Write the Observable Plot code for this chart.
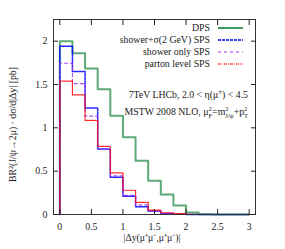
<!DOCTYPE html>
<html><head><meta charset="utf-8">
<script src="https://cdn.jsdelivr.net/npm/d3@7"></script>
<script src="https://cdn.jsdelivr.net/npm/@observablehq/plot@0.6"></script>
<style>body{margin:0;background:#fff}</style>
</head><body><div id="chart"></div>
<script>
const binEdges = [0,0.2,0.4,0.6,0.8,1.0,1.2,1.4,1.6,1.8,2.0,2.2,2.4,2.6,2.8,3.0];
const seriesNames = ["DPS","shower+σ(2 GeV) SPS","shower only SPS","parton level SPS"];
const dps      = [2.00,1.86,1.685,1.446,1.14,0.89,0.62,0.39,0.23,0.105,0.022,0.004,0,0,0];
const showerSig= [1.94,1.65,1.23,0.755,0.43,0.21,0.09,0.04,0.01,0.004,0,0,0,0,0];
const showerOnly=[1.745,1.51,1.135,0.755,0.445,0.22,0.11,0.04,0.015,0.005,0,0,0,0,0];
const parton   = [1.54,1.38,1.085,0.785,0.48,0.28,0.14,0.05,0.02,0.01,0.003,0,0,0,0];
const xTicks = [0,0.5,1,1.5,2,2.5,3];
const yTicks = [0,0.5,1,1.5,2];

(function(){
const styles = [
  {stroke:"#3f9b5f", strokeWidth:2, dash:null},
  {stroke:"#0000ff", strokeWidth:1.5, dash:"3,1"},
  {stroke:"#a030f0", strokeWidth:1.2, dash:"3,3"},
  {stroke:"#ff0000", strokeWidth:1.2, dash:"3,1,1,1"}
];
const allVals = [dps, showerSig, showerOnly, parton];
const FS = 9.8;

function steps(vals){
  const pts = [{x:binEdges[0], y:0}];
  vals.forEach((v,i)=>pts.push({x:binEdges[i], y:v}));
  pts.push({x:binEdges[binEdges.length-1], y:vals[vals.length-1]});
  return pts;
}

const font = "Liberation Serif, Times New Roman, serif";
const marks = [];
[0,1,2,3].forEach(i=>{
  marks.push(Plot.line(steps(allVals[i]), {x:"x", y:"y", curve:"step-after",
    stroke:styles[i].stroke, strokeWidth:styles[i].strokeWidth,
    strokeDasharray:styles[i].dash, strokeOpacity:0.85}));
});
marks.push(Plot.frame({stroke:"#333", strokeWidth:1}));
marks.push(Plot.axisX(xTicks, {anchor:"bottom", tickSize:-5, tickPadding:14, label:null, fontSize:FS, tickFormat:d=>String(d)}));
marks.push(Plot.axisX(xTicks, {anchor:"top", tickSize:-5, label:null, tickFormat:()=>""}));
marks.push(Plot.axisY(yTicks, {anchor:"left", tickSize:-5, tickPadding:11, label:null, fontSize:FS, tickFormat:d=>String(d)}));
marks.push(Plot.axisY(yTicks, {anchor:"right", tickSize:-5, label:null, tickFormat:()=>""}));

const plot = Plot.plot({
  width:285, height:249,
  marginLeft:53, marginRight:30, marginTop:19, marginBottom:35,
  style:{fontFamily:font, fontSize:FS+"px", color:"#222", background:"#fff"},
  x:{domain:[-0.1,3.1]},
  y:{domain:[0,2.25]},
  marks
});
document.getElementById("chart").appendChild(plot);

const svg = d3.select(plot);
const xr = plot.scale("x").range, yr = plot.scale("y").range;
const fl = xr[0], fr = xr[1], ft = yr[1], fb = yr[0];
const g = svg.append("g").attr("font-family", font).attr("font-size", FS).attr("fill","#222");

seriesNames.forEach((name,i)=>{
  const y = ft + 9 + i*12;
  g.append("text").attr("x", fr-45).attr("y", y).attr("text-anchor","end").attr("dy","0.35em").text(name);
  g.append("line").attr("x1", fr-37).attr("x2", fr-12).attr("y1", y).attr("y2", y)
    .attr("stroke", styles[i].stroke).attr("stroke-width", styles[i].strokeWidth)
    .attr("stroke-dasharray", styles[i].dash);
});

const t1 = g.append("text").attr("x", fr-7).attr("y", ft+79).attr("text-anchor","end");
t1.append("tspan").text("7TeV LHCb, 2.0 < η(μ");
t1.append("tspan").attr("font-size",7).attr("dy","-4").text("±");
t1.append("tspan").attr("dy","4").text(") < 4.5");

const t2 = g.append("text").attr("x", fr-7).attr("y", ft+96).attr("text-anchor","end");
function supsub(sup, sub, supW){
  t2.append("tspan").attr("font-size",6.5).attr("dy","-4").text(sup);
  t2.append("tspan").attr("font-size",6.5).attr("dx",-supW).attr("dy","7").text(sub);
}
t2.append("tspan").text("MSTW 2008 NLO, μ");
supsub("2","F",3.3);
t2.append("tspan").attr("dy","-3").text("=m");
supsub("2","J/ψ",3.3);
t2.append("tspan").attr("dy","-3").text("+p");
supsub("2","T",3.3);

g.append("text").attr("transform",`translate(13,${(ft+fb)/2+8}) rotate(-90)`)
  .attr("text-anchor","middle").attr("dy","0.35em").text("BR²(J/ψ→2μ) · dσ/d|Δy| [pb]");
g.append("text").attr("x",(fl+fr)/2-2).attr("y",241).attr("text-anchor","middle")
  .text("|Δy(μ⁺μ⁻,μ⁺μ⁻)|");
})();
</script></body></html>
